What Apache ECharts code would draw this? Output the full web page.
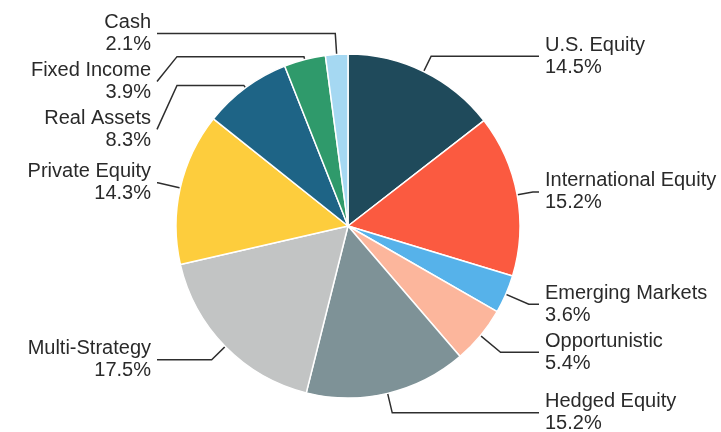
<!DOCTYPE html>
<html>
<head>
<meta charset="utf-8">
<script src="https://cdn.jsdelivr.net/npm/echarts@6/dist/echarts.min.js"></script>
<style>
html,body{margin:0;padding:0;background:#fff;}
#chart{width:721px;height:432px;}
</style>
</head>
<body>
<div id="chart"></div>
<script>
// ---- data ----
const categories = ['U.S. Equity', 'International Equity', 'Emerging Markets', 'Opportunistic',
  'Hedged Equity', 'Multi-Strategy', 'Private Equity', 'Real Assets', 'Fixed Income', 'Cash'];
const allocations = [14.5, 15.2, 3.6, 5.4, 15.2, 17.5, 14.3, 8.3, 3.9, 2.1];

// ---- styles ----
const sliceColors = ['#1f4a5b', '#fb5a40', '#56b2ea', '#fcb69c', '#7e9297',
  '#c2c4c4', '#fdcd3d', '#1e6486', '#2f9a6b', '#a5d8f2'];
const leaderLen = [35, 34, 43, 44, 38, 37, 41, 21, 21, 39];

const CX = 348, CY = 226, R = 172, R_LABEL = 154;
const RIGHT_X = 545, LEFT_X = 151, GAP = 6, JOG = 20;

const total = allocations.reduce((a, b) => a + b, 0);
const midAngles = [];
let acc = 0;
allocations.forEach(v => { midAngles.push((acc + v / 2) / total * Math.PI * 2); acc += v; });

const chart = echarts.init(document.getElementById('chart'), null, {renderer: 'canvas'});

const pieData = categories.map((n, i) => ({
  name: n, value: allocations[i], itemStyle: {color: sliceColors[i]}
}));
const labelData = categories.map((n, i) => ({
  name: n, value: allocations[i], labelLine: {length: leaderLen[i], length2: 4}
}));

chart.setOption({
  animation: false,
  backgroundColor: '#ffffff',
  series: [
    {
      type: 'pie',
      left: 0, top: 0, right: 0, bottom: 0,
      center: [CX, CY],
      radius: [0, R],
      startAngle: 90,
      clockwise: true,
      silent: true,
      label: {show: false},
      labelLine: {show: false},
      itemStyle: {borderColor: '#ffffff', borderWidth: 1.5},
      data: pieData
    },
    {
      type: 'pie',
      left: 0, top: 0, right: 0, bottom: -40,
      center: [CX, CY],
      radius: [0, R_LABEL],
      startAngle: 90,
      clockwise: true,
      silent: true,
      avoidLabelOverlap: true,
      itemStyle: {color: 'rgba(0,0,0,0)', borderWidth: 0},
      emphasis: {disabled: true},
      label: {
        show: true,
        position: 'outside',
        formatter: p => p.name + '\n' + p.value.toFixed(1) + '%',
        fontFamily: 'Liberation Sans, Arial, sans-serif',
        fontSize: 20,
        lineHeight: 22,
        width: 190,
        overflow: 'none',
        padding: [1, 0, 1, 0],
        color: '#2a2a2a',
        distanceToLabelLine: 4
      },
      labelLine: {
        show: true,
        lineStyle: {color: '#2e2e2e', width: 1.5}
      },
      labelLayout: function (p) {
        const i = p.dataIndex;
        const a = midAngles[i];
        const sx = Math.sin(a), sy = -Math.cos(a);
        const s = [CX + R_LABEL * sx, CY + R_LABEL * sy];
        const e = [s[0] + leaderLen[i] * sx, s[1] + leaderLen[i] * sy];
        const right = sx > 0;
        let ly = p.labelRect.y + p.labelRect.height / 2;
        const endX = right ? RIGHT_X - GAP : LEFT_X + GAP;
        let pts;
        if (Math.abs(ly - e[1]) < 4) {
          ly = e[1];
          pts = [s, e, [endX, e[1]]];
        } else {
          pts = [s, e, [endX + (right ? -JOG : JOG), e[1]], [endX, ly]];
        }
        return {
          x: right ? RIGHT_X : LEFT_X,
          y: ly,
          align: right ? 'left' : 'right',
          verticalAlign: 'middle',
          labelLinePoints: pts
        };
      },
      data: labelData
    }
  ]
});
</script>
</body>
</html>
